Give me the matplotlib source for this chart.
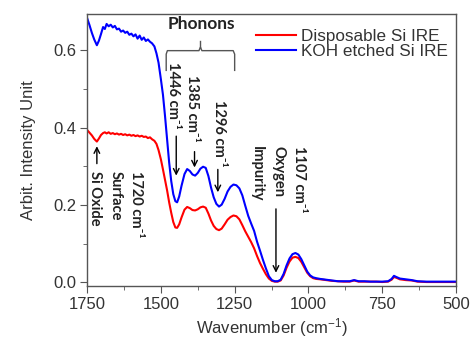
import numpy as np
import matplotlib.pyplot as plt
from matplotlib.ticker import MultipleLocator

# FTIR spectra
wavenumber = [1750, 1742, 1734, 1726, 1717, 1710, 1703, 1696, 1690, 1684, 1677, 1670, 1663, 1656,
              1649, 1642, 1635, 1628, 1621, 1614, 1607, 1600, 1593, 1586, 1579, 1572, 1565, 1558,
              1551, 1544, 1537, 1530, 1522, 1515, 1508, 1500, 1493, 1486, 1479, 1472, 1465, 1458,
              1451, 1445, 1438, 1430, 1420, 1411, 1402, 1393, 1384, 1375, 1366, 1357, 1348, 1339,
              1330, 1321, 1312, 1303, 1294, 1284, 1274, 1264, 1254, 1244, 1234, 1224, 1214, 1204,
              1194, 1184, 1174, 1164, 1154, 1144, 1134, 1124, 1114, 1104, 1094, 1084, 1074, 1064,
              1054, 1044, 1034, 1024, 1014, 1004, 994, 984, 974, 960, 940, 920, 900, 880, 860, 845,
              830, 810, 790, 770, 750, 730, 718, 710, 702, 690, 670, 650, 630, 600, 570, 540, 500]

koh_etched = [0.683, 0.665, 0.645, 0.628, 0.613, 0.625, 0.642, 0.660, 0.655, 0.668, 0.662, 0.666, 0.659, 0.663,
              0.654, 0.656, 0.648, 0.651, 0.645, 0.648, 0.640, 0.643, 0.636, 0.641, 0.630, 0.638, 0.627, 0.633,
              0.624, 0.628, 0.622, 0.618, 0.610, 0.592, 0.568, 0.525, 0.485, 0.430, 0.370, 0.310, 0.262, 0.228,
              0.210, 0.207, 0.222, 0.250, 0.280, 0.293, 0.288, 0.279, 0.276, 0.283, 0.294, 0.299, 0.296, 0.275,
              0.245, 0.220, 0.203, 0.196, 0.201, 0.216, 0.235, 0.247, 0.253, 0.251, 0.243, 0.225, 0.198, 0.172,
              0.152, 0.133, 0.105, 0.082, 0.058, 0.036, 0.016, 0.006, 0.003, 0.003, 0.007, 0.022, 0.044, 0.062,
              0.073, 0.076, 0.072, 0.060, 0.044, 0.028, 0.018, 0.013, 0.011, 0.009, 0.007, 0.005, 0.003, 0.003, 0.003, 0.006,
              0.003, 0.003, 0.002, 0.002, 0.002, 0.003, 0.009, 0.017, 0.014, 0.010, 0.008, 0.006, 0.003, 0.002, 0.002, 0.002, 0.002]

disposable = [0.394, 0.387, 0.380, 0.371, 0.364, 0.372, 0.381, 0.386, 0.388, 0.385, 0.388, 0.384, 0.386, 0.383,
              0.385, 0.382, 0.384, 0.381, 0.383, 0.380, 0.382, 0.379, 0.381, 0.378, 0.380, 0.377, 0.379, 0.376,
              0.377, 0.373, 0.375, 0.370, 0.366, 0.358, 0.342, 0.318, 0.292, 0.265, 0.238, 0.207, 0.180, 0.156,
              0.142, 0.141, 0.150, 0.168, 0.188, 0.195, 0.192, 0.187, 0.186, 0.189, 0.194, 0.196, 0.193, 0.178,
              0.160, 0.146, 0.138, 0.135, 0.139, 0.150, 0.162, 0.169, 0.173, 0.171, 0.163, 0.148, 0.132, 0.118,
              0.104, 0.088, 0.068, 0.050, 0.035, 0.021, 0.010, 0.004, 0.002, 0.002, 0.005, 0.018, 0.038, 0.054,
              0.064, 0.066, 0.063, 0.053, 0.039, 0.025, 0.016, 0.011, 0.009, 0.008, 0.006, 0.004, 0.003, 0.002, 0.002, 0.005,
              0.002, 0.002, 0.002, 0.002, 0.001, 0.002, 0.007, 0.014, 0.012, 0.008, 0.006, 0.005, 0.002, 0.001, 0.001, 0.001, 0.001]

series_labels = ["Disposable Si IRE", "KOH etched Si IRE"]

gray = "#555555"
lab_font = ["Lato", "DejaVu Sans"]
plt.rcParams["font.family"] = ["Liberation Sans", "DejaVu Sans"]
plt.rcParams["mathtext.fontset"] = "custom"
plt.rcParams["mathtext.rm"] = "Liberation Sans"
plt.rcParams["mathtext.default"] = "rm"

fig = plt.figure(figsize=(4.71, 3.40), dpi=100)
ax = fig.add_axes([0.185, 0.158, 0.783, 0.800])

ax.plot(wavenumber, disposable, color="#ff0000", lw=1.5, label=series_labels[0])
ax.plot(wavenumber, koh_etched, color="#0000ff", lw=1.5, label=series_labels[1])

ax.set_xlim(1750, 500)
ax.set_ylim(-0.01, 0.693)
ax.xaxis.set_major_locator(MultipleLocator(250))
ax.xaxis.set_minor_locator(MultipleLocator(125))
ax.yaxis.set_major_locator(MultipleLocator(0.2))
ax.yaxis.set_minor_locator(MultipleLocator(0.1))
ax.tick_params(which="both", direction="out", color=gray, labelcolor="#333333",
               labelsize=12, top=False, right=False)
ax.tick_params(which="major", length=5, pad=3)
ax.tick_params(which="minor", length=3)
for s in ax.spines.values():
    s.set_color(gray)
    s.set_linewidth(1.0)

ax.set_xlabel("Wavenumber (cm$^{-1}$)", fontsize=12, color="#333333", labelpad=3)
ax.set_ylabel("Arbit. Intensity Unit", fontsize=12, color="#333333", labelpad=12)

leg = ax.legend(loc="upper left", bbox_to_anchor=(0.44, 0.97), frameon=False, fontsize=12.3,
                handlelength=2.3, handletextpad=0.3, labelspacing=0.0, borderaxespad=0)
for t in leg.get_texts():
    t.set_color("#333333")

# Phonons label and brace
ax.text(1363, 0.668, "Phonons", ha="center", va="center", fontsize=12.5, fontweight="bold",
        family=lab_font, color="#222222")
bx = [1482, 1482, 1478, 1371, 1366, 1361, 1255, 1250, 1250]
by = [0.548, 0.590, 0.599, 0.599, 0.608, 0.599, 0.599, 0.590, 0.548]
ax.plot(bx, by, color=gray, lw=1.0)
ax.plot([1366, 1366], [0.608, 0.624], color=gray, lw=1.0)

# rotated labels: (x, top y, text)
vlabels = [
    (1460, 0.570, "1446 cm⁻¹"),
    (1393, 0.537, "1385 cm⁻¹"),
    (1302, 0.472, "1296 cm⁻¹"),
    (1173, 0.352, "Impurity"),
    (1102, 0.352, "Oxygen"),
    (1031, 0.352, "1107 cm⁻¹"),
    (1724, 0.288, "Si Oxide"),
    (1653, 0.288, "Surface"),
    (1583, 0.288, "1720 cm⁻¹"),
]
for x, y, t in vlabels:
    ax.text(x, y, t, rotation=-90, ha="center", va="top", fontsize=10.5,
            fontweight="bold", family=lab_font, color="#222222")

# arrows: (x, y start, y end)
arrows = [
    (1448, 0.378, 0.276),
    (1386, 0.338, 0.297),
    (1307, 0.292, 0.233),
    (1110, 0.190, 0.025),
    (1717, 0.307, 0.352),
]
for x, y0, y1 in arrows:
    ax.annotate("", xy=(x, y1), xytext=(x, y0),
                arrowprops=dict(arrowstyle="->", lw=1.0, color="black",
                                shrinkA=0, shrinkB=0))

plt.savefig("out.png", dpi=100)
